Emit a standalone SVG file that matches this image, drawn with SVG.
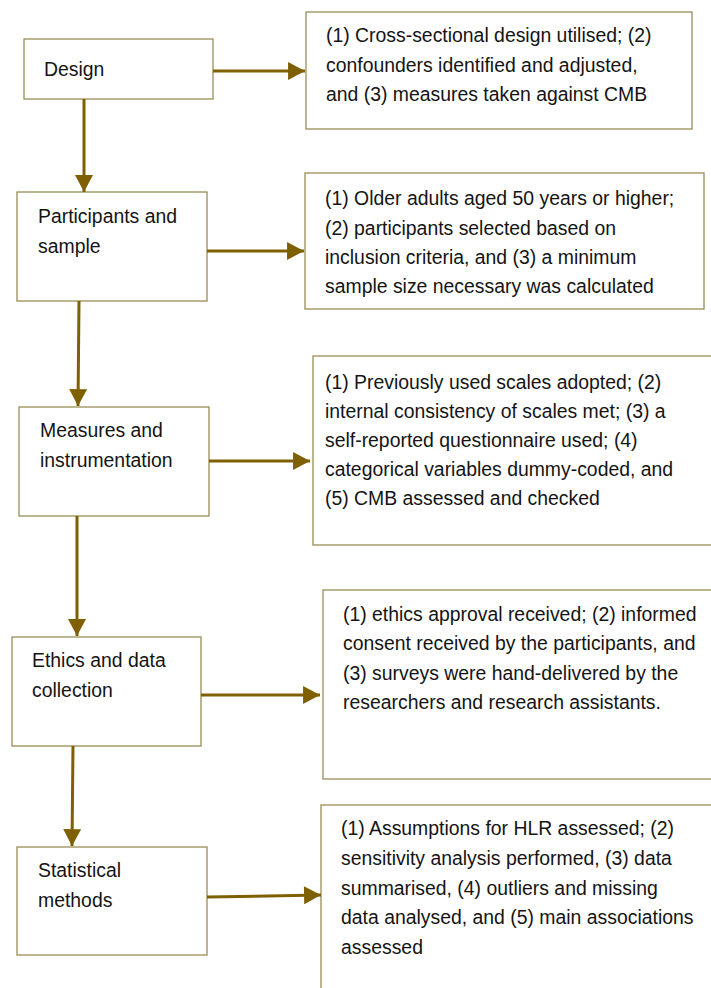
<svg xmlns="http://www.w3.org/2000/svg" width="711" height="988" viewBox="0 0 711 988">
<style>
.box{fill:#ffffff;stroke:#9A8D58;stroke-width:1.3}
.t{font-family:"Liberation Sans",Arial,sans-serif;font-size:19.4px;fill:#141414}
.c{stroke:#7F6000;stroke-width:3;fill:none}
</style>
<defs>
<marker id="ah" markerUnits="userSpaceOnUse" markerWidth="18" markerHeight="18" viewBox="0 0 16 17" refX="16" refY="8.5" orient="auto">
<path d="M0,0 L16,8.5 L0,17 Z" fill="#7F6000"/>
</marker>
</defs>
<rect width="711" height="988" fill="#ffffff"/>
<g id="design"><rect class="box" x="24" y="39" width="189" height="60"/><text class="t" x="44" y="76">Design</text></g>
<g id="participants"><rect class="box" x="17" y="192" width="190" height="109"/><text class="t" x="38" y="223">Participants and</text><text class="t" x="38" y="253">sample</text></g>
<g id="measures"><rect class="box" x="19" y="407" width="190" height="109"/><text class="t" x="40" y="437">Measures and</text><text class="t" x="40" y="467">instrumentation</text></g>
<g id="ethics"><rect class="box" x="12" y="637" width="189" height="109"/><text class="t" x="32" y="667">Ethics and data</text><text class="t" x="32" y="697">collection</text></g>
<g id="statistical"><rect class="box" x="17" y="847" width="190" height="108"/><text class="t" x="38" y="877">Statistical</text><text class="t" x="38" y="907">methods</text></g>
<g id="r1"><rect class="box" x="306" y="12" width="386" height="117"/>
<text class="t" x="326" y="42">(1) Cross-sectional design utilised; (2)</text>
<text class="t" x="326" y="72">confounders identified and adjusted,</text>
<text class="t" x="326" y="101">and (3) measures taken against CMB</text></g>
<g id="r2"><rect class="box" x="305" y="173" width="399" height="136"/>
<text class="t" x="325" y="205">(1) Older adults aged 50 years or higher;</text>
<text class="t" x="325" y="235">(2) participants selected based on</text>
<text class="t" x="325" y="264">inclusion criteria, and (3) a minimum</text>
<text class="t" x="325" y="293">sample size necessary was calculated</text></g>
<g id="r3"><rect class="box" x="313" y="356" width="410" height="189"/>
<text class="t" x="325" y="389">(1) Previously used scales adopted; (2)</text>
<text class="t" x="325" y="418">internal consistency of scales met; (3) a</text>
<text class="t" x="325" y="447">self-reported questionnaire used; (4)</text>
<text class="t" x="325" y="476">categorical variables dummy-coded, and</text>
<text class="t" x="325" y="505">(5) CMB assessed and checked</text></g>
<g id="r4"><rect class="box" x="323" y="590" width="400" height="189"/>
<text class="t" x="343" y="621">(1) ethics approval received; (2) informed</text>
<text class="t" x="343" y="650">consent received by the participants, and</text>
<text class="t" x="343" y="680">(3) surveys were hand-delivered by the</text>
<text class="t" x="343" y="709">researchers and research assistants.</text></g>
<g id="r5"><rect class="box" x="321" y="805" width="400" height="200"/>
<text class="t" x="341" y="835">(1) Assumptions for HLR assessed; (2)</text>
<text class="t" x="341" y="865">sensitivity analysis performed, (3) data</text>
<text class="t" x="341" y="895">summarised, (4) outliers and missing</text>
<text class="t" x="341" y="924">data analysed, and (5) main associations</text>
<text class="t" x="341" y="954">assessed</text></g>
<g id="connectors">
<line class="c" x1="213" y1="71" x2="305" y2="71" marker-end="url(#ah)"/>
<line class="c" x1="84" y1="99" x2="84" y2="192" marker-end="url(#ah)"/>
<line class="c" x1="207" y1="251" x2="304" y2="251" marker-end="url(#ah)"/>
<line class="c" x1="79" y1="301" x2="78" y2="406" marker-end="url(#ah)"/>
<line class="c" x1="209" y1="461" x2="310" y2="461" marker-end="url(#ah)"/>
<line class="c" x1="77" y1="516" x2="77" y2="636" marker-end="url(#ah)"/>
<line class="c" x1="201" y1="695" x2="320" y2="695" marker-end="url(#ah)"/>
<line class="c" x1="73" y1="746" x2="72" y2="846" marker-end="url(#ah)"/>
<line class="c" x1="207" y1="897" x2="321" y2="895" marker-end="url(#ah)"/>
</g>
</svg>
